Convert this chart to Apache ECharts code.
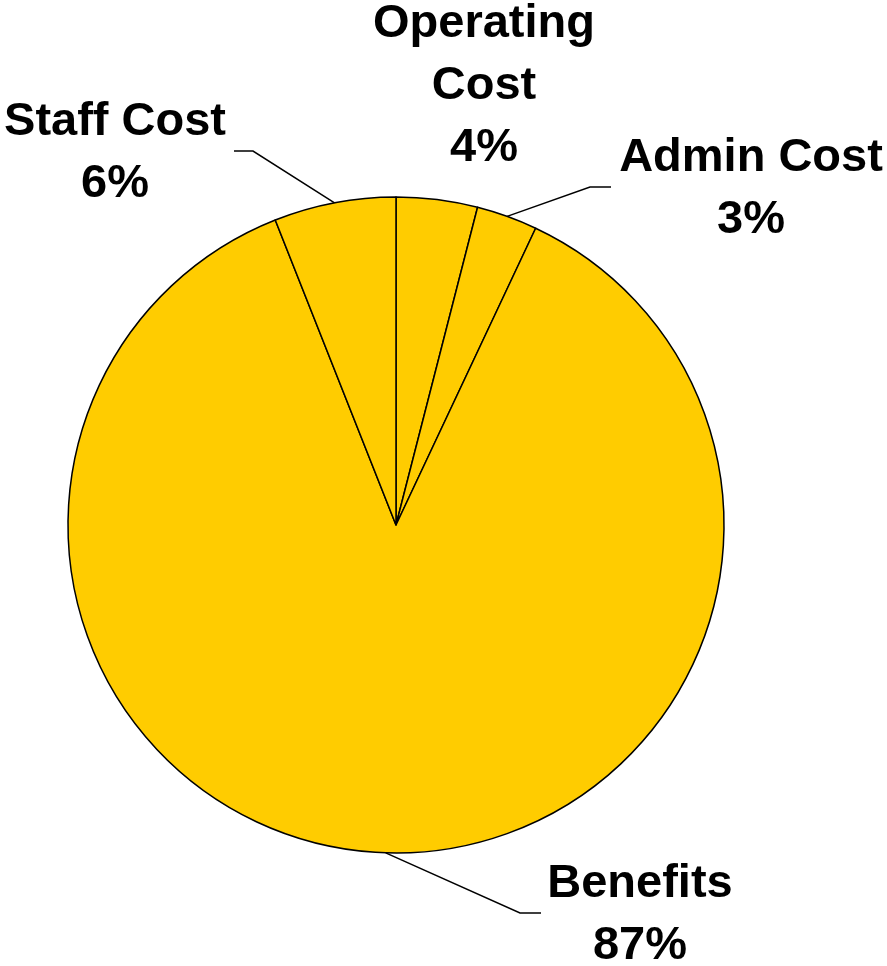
<!DOCTYPE html>
<html>
<head>
<meta charset="utf-8">
<script src="https://cdn.jsdelivr.net/npm/echarts@6/dist/echarts.min.js"></script>
<style>
  html, body { margin: 0; padding: 0; background: #ffffff; }
  #chart { width: 887px; height: 966px; }
</style>
</head>
<body>
<div id="chart"></div>
<script>
// Budget share by cost type (clockwise from 12 o'clock)
const categories = ['Operating Cost', 'Admin Cost', 'Benefits', 'Staff Cost'];
const shares = [4, 3, 87, 6];
// Text shown for each slice name (line breaks where the label wraps)
const labelNames = ['Operating\nCost', 'Admin Cost', 'Benefits', 'Staff Cost'];

// Where each label block sits, and the elbow/end of its leader line
const labelSpots = [
  { x: 484, y: 86,  line: null },
  { x: 751, y: 189, line: [[590, 187], [611, 187]] },
  { x: 640, y: 915, line: [[520, 913], [541, 913]] },
  { x: 115, y: 153, line: [[253, 151], [234, 151]] }
];

const chart = echarts.init(document.getElementById('chart'), null, { renderer: 'canvas' });

chart.setOption({
  backgroundColor: '#ffffff',
  animation: false,
  series: [{
    type: 'pie',
    center: [396, 525],
    radius: 328,
    startAngle: 90,
    clockwise: true,
    avoidLabelOverlap: false,
    itemStyle: { color: '#FFCC00', borderColor: '#000000', borderWidth: 1.5 },
    emphasis: { disabled: true },
    label: {
      show: true,
      position: 'outside',
      color: '#000000',
      fontFamily: '"Liberation Sans", Arial, sans-serif',
      fontWeight: 'bold',
      fontSize: 47,
      lineHeight: 62,
      align: 'center',
      formatter: p => labelNames[p.dataIndex] + '\n' + Math.round(p.percent) + '%'
    },
    labelLine: { show: true, lineStyle: { color: '#000000', width: 1.5 } },
    labelLayout: params => {
      const s = labelSpots[params.dataIndex];
      const out = { x: s.x, y: s.y, align: 'center', verticalAlign: 'middle' };
      if (s.line && params.labelLinePoints) {
        out.labelLinePoints = [params.labelLinePoints[0], s.line[0], s.line[1]];
      }
      return out;
    },
    data: categories.map((name, i) => ({
      name: name,
      value: shares[i],
      labelLine: { show: labelSpots[i].line !== null }
    }))
  }]
});
</script>
</body>
</html>
